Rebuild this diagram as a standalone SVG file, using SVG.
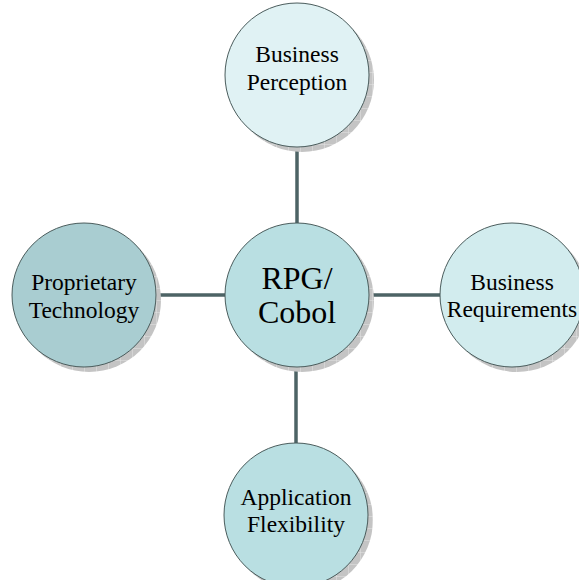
<svg xmlns="http://www.w3.org/2000/svg" width="579" height="580" viewBox="0 0 579 580">
<defs>
<pattern id="grid" width="12" height="12" patternUnits="userSpaceOnUse">
<rect width="12" height="12" fill="#c4c4c4"/>
<path d="M0 0H12M0 0V12" stroke="#e4e4e4" stroke-width="1"/>
</pattern>
</defs>
<style>
.sh{fill:url(#grid);}
.n{stroke:#4a5c5c;stroke-width:1;}
.t{font-family:"Liberation Serif","Times New Roman",serif;font-size:23.5px;fill:#000;text-anchor:middle;}
.c{stroke:#4d6365;stroke-width:3.5;fill:none;}
</style>
<rect width="579" height="580" fill="#fff"/>
<g id="connectors">
<line class="c" x1="297" y1="147" x2="297" y2="223"/>
<line class="c" x1="155" y1="295" x2="225" y2="295"/>
<line class="c" x1="369" y1="295" x2="441" y2="295"/>
<line class="c" x1="296" y1="367" x2="296" y2="443"/>
</g>
<g id="business-perception">
<circle class="sh" cx="302" cy="80" r="72"/>
<circle class="n" cx="297" cy="75" r="72" fill="#e0f2f4"/>
<text class="t" x="297" y="62">Business</text>
<text class="t" x="297" y="90">Perception</text>
</g>
<g id="proprietary-technology">
<circle class="sh" cx="89" cy="300" r="72"/>
<circle class="n" cx="84" cy="295" r="72" fill="#a9cdd1"/>
<text class="t" x="84" y="290">Proprietary</text>
<text class="t" x="84" y="318">Technology</text>
</g>
<g id="rpg-cobol">
<circle class="sh" cx="302" cy="300" r="72"/>
<circle class="n" cx="297" cy="295" r="72" fill="#b9dfe2"/>
<text class="t" x="297" y="289" style="font-size:32px">RPG/</text>
<text class="t" x="297" y="323" style="font-size:32px">Cobol</text>
</g>
<g id="business-requirements">
<circle class="sh" cx="517" cy="300" r="72"/>
<circle class="n" cx="512" cy="295" r="72" fill="#d2ecee"/>
<text class="t" x="512" y="290">Business</text>
<text class="t" x="512" y="317">Requirements</text>
</g>
<g id="application-flexibility">
<circle class="sh" cx="301" cy="520" r="72"/>
<circle class="n" cx="296" cy="515" r="72" fill="#b9dfe2"/>
<text class="t" x="296" y="505">Application</text>
<text class="t" x="296" y="532">Flexibility</text>
</g>
</svg>
